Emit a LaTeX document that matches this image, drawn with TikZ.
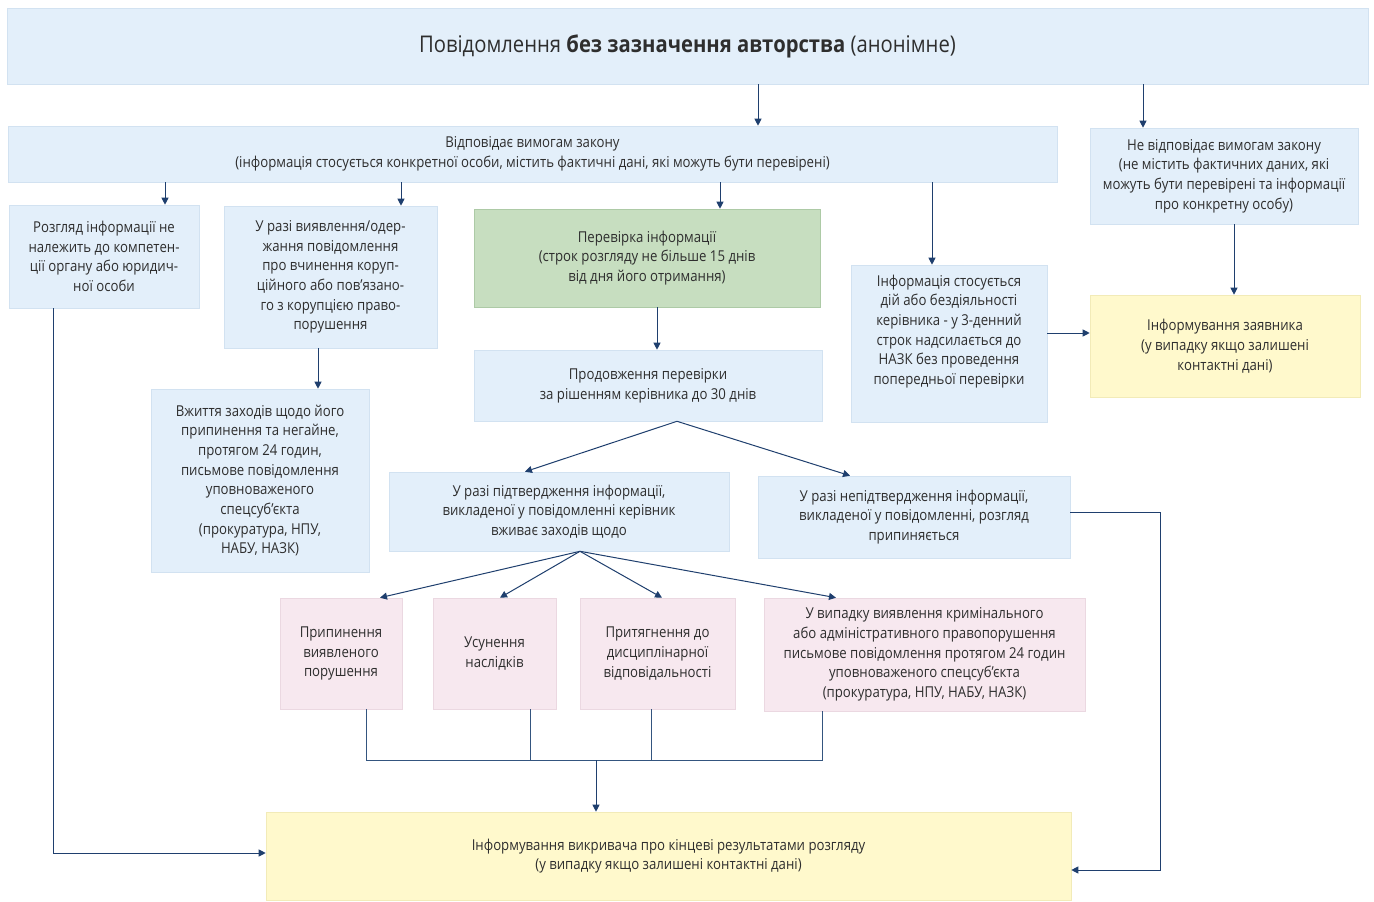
\documentclass[tikz,border=0pt]{standalone}
\usepackage{fontspec}
\setmainfont[FakeStretch=0.88]{Open Sans}
\usetikzlibrary{arrows.meta}
\definecolor{bluebox}{HTML}{E3EFFA}
\definecolor{blueedge}{HTML}{D2E2F1}
\definecolor{greenbox}{HTML}{C7DEC0}
\definecolor{greenedge}{HTML}{ADCAA6}
\definecolor{yellowbox}{HTML}{FFF9CC}
\definecolor{yellowedge}{HTML}{F2EBB8}
\definecolor{pinkbox}{HTML}{F7E8EF}
\definecolor{pinkedge}{HTML}{EBD8E1}
\definecolor{arrowc}{HTML}{1F3F6E}
\definecolor{linec}{HTML}{34557F}
\definecolor{txt}{HTML}{2E2E2E}
\begin{document}
\begin{tikzpicture}[x=1pt,y=-1pt,
  base/.style={align=center, inner sep=0pt, text=txt, line width=0.6pt,
    font=\fontsize{15}{19.7}\selectfont},
  box/.style={base, fill=bluebox, draw=blueedge},
  gbox/.style={base, fill=greenbox, draw=greenedge},
  ybox/.style={base, fill=yellowbox, draw=yellowedge},
  pbox/.style={base, fill=pinkbox, draw=pinkedge},
  arr/.style={draw=arrowc, line width=1pt, -{Triangle[width=7pt,length=7pt]}},
  ln/.style={draw=linec, line width=0.9pt}]
\useasboundingbox (0,0) rectangle (1374,902);
\fill[white] (0,0) rectangle (1374,902);

\node[box, minimum width=1361pt, minimum height=76pt, font=\fontsize{23}{28}\selectfont] (title) at (687.5,46)
  {Повідомлення \textbf{без зазначення авторства} (анонімне)};
\node[box, minimum width=1049pt, minimum height=56pt] (law) at (532.5,154)
  {Відповідає вимогам закону\\(інформація стосується конкретної особи, містить фактичні дані, які можуть бути перевірені)};
\node[box, minimum width=268pt, minimum height=96pt] (notlaw) at (1224,176)
  {Не відповідає вимогам закону\\(не містить фактичних даних, які\\можуть бути перевірені та інформації\\про конкретну особу)};
\node[box, minimum width=190pt, minimum height=103pt] (a) at (104,256.5)
  {Розгляд інформації не\\належить до компетен-\\ції органу або юридич-\\ної особи};
\node[box, minimum width=213pt, minimum height=142pt] (b) at (330.5,277)
  {У разі виявлення/одер-\\жання повідомлення\\про вчинення коруп-\\ційного або пов’язано-\\го з корупцією право-\\порушення};
\node[gbox, minimum width=346pt, minimum height=98pt] (green) at (647,258)
  {Перевірка інформації\\(строк розгляду не більше 15 днів\\від дня його отримання)};
\node[box, minimum width=196pt, minimum height=157pt] (nazk) at (949,343.5)
  {Інформація стосується\\дій або бездіяльності\\керівника - у 3-денний\\строк надсилається до\\НАЗК без проведення\\попередньої перевірки\\[8pt]};
\node[ybox, minimum width=270pt, minimum height=102pt] (yel) at (1225,346)
  {Інформування заявника\\(у випадку якщо залишені\\контактні дані)};
\node[box, minimum width=348pt, minimum height=71pt] (prod) at (648,385.5)
  {Продовження перевірки\\за рішенням керівника до 30 днів};
\node[box, minimum width=218pt, minimum height=183pt] (c) at (260,480.5)
  {Вжиття заходів щодо його\\припинення та негайне,\\протягом 24 годин,\\письмове повідомлення\\уповноваженого\\спецсуб’єкта\\(прокуратура, НПУ,\\НАБУ, НАЗК)};
\node[box, minimum width=340pt, minimum height=79pt] (conf) at (559,511.5)
  {У разі підтвердження інформації,\\викладеної у повідомленні керівник\\вживає заходів щодо};
\node[box, minimum width=312pt, minimum height=82pt] (nconf) at (914,517)
  {У разі непідтвердження інформації,\\викладеної у повідомленні, розгляд\\припиняється};
\node[pbox, minimum width=122pt, minimum height=111pt] (p1) at (341,653.5)
  {Припинення\\виявленого\\порушення};
\node[pbox, minimum width=123pt, minimum height=111pt] (p2) at (494.5,653.5)
  {Усунення\\наслідків};
\node[pbox, minimum width=155pt, minimum height=111pt] (p3) at (657.5,653.5)
  {Притягнення до\\дисциплінарної\\відповідальності};
\node[pbox, minimum width=321pt, minimum height=113pt] (p4) at (924.5,654.5)
  {У випадку виявлення кримінального\\або адміністративного правопорушення\\письмове повідомлення протягом 24 годин\\уповноваженого спецсуб’єкта\\(прокуратура, НПУ, НАБУ, НАЗК)};
\node[ybox, minimum width=805pt, minimum height=88pt] (final) at (668.5,856)
  {Інформування викривача про кінцеві результатами розгляду\\(у випадку якщо залишені контактні дані)};

% x positions of vertical connectors
\coordinate (x1) at (758,0);
\coordinate (x2) at (1143,0);
\coordinate (xa) at (165,0);
\coordinate (xb) at (401,0);
\coordinate (xg) at (720,0);
\coordinate (xn) at (932,0);
\coordinate (xbc) at (318,0);
\coordinate (xgp) at (657,0);
\coordinate (xny) at (1234,0);
\coordinate (xl) at (53,0);

\draw[arr] (x1 |- title.south) -- (x1 |- law.north);
\draw[arr] (x2 |- title.south) -- (x2 |- notlaw.north);
\draw[arr] (xa |- law.south) -- (xa |- a.north);
\draw[arr] (xb |- law.south) -- (xb |- b.north);
\draw[arr] (xg |- law.south) -- (xg |- green.north);
\draw[arr] (xn |- law.south) -- (xn |- nazk.north);
\draw[arr] (xny |- notlaw.south) -- (xny |- yel.north);
\draw[arr] ([yshift=10.5pt]nazk.east) -- ([yshift=10.5pt]nazk.east -| yel.west);
\draw[arr] (xgp |- green.south) -- (xgp |- prod.north);
\draw[arr] (xbc |- b.south) -- (xbc |- c.north);

\draw[arr] ([xshift=29pt]prod.south) -- ([xshift=-34pt]conf.north);
\draw[arr] ([xshift=29pt]prod.south) -- ([xshift=-64pt]nconf.north);

\draw[arr] ([xshift=21pt]conf.south) -- ([xshift=39pt]p1.north);
\draw[arr] ([xshift=21pt]conf.south) -- ([xshift=5.5pt]p2.north);
\draw[arr] ([xshift=21pt]conf.south) -- ([xshift=4.5pt]p3.north);
\draw[arr] ([xshift=21pt]conf.south) -- ([xshift=-88.5pt]p4.north);

\coordinate (join) at (596,760);
\draw[ln] ([xshift=25pt]p1.south) |- (join);
\draw[ln] ([xshift=35.5pt]p2.south) |- (join);
\draw[ln] ([xshift=-6.5pt]p3.south) |- (join);
\draw[ln] ([xshift=-102.5pt]p4.south) |- (join);
\draw[arr] (join) -- (join |- final.north);

\draw[arr] (xl |- a.south) |- ([yshift=3pt]final.west);
\coordinate (rt) at (1160,870);
\draw[arr] ([yshift=5pt]nconf.east) -| (rt) -- (rt -| final.east);
\end{tikzpicture}
\end{document}
